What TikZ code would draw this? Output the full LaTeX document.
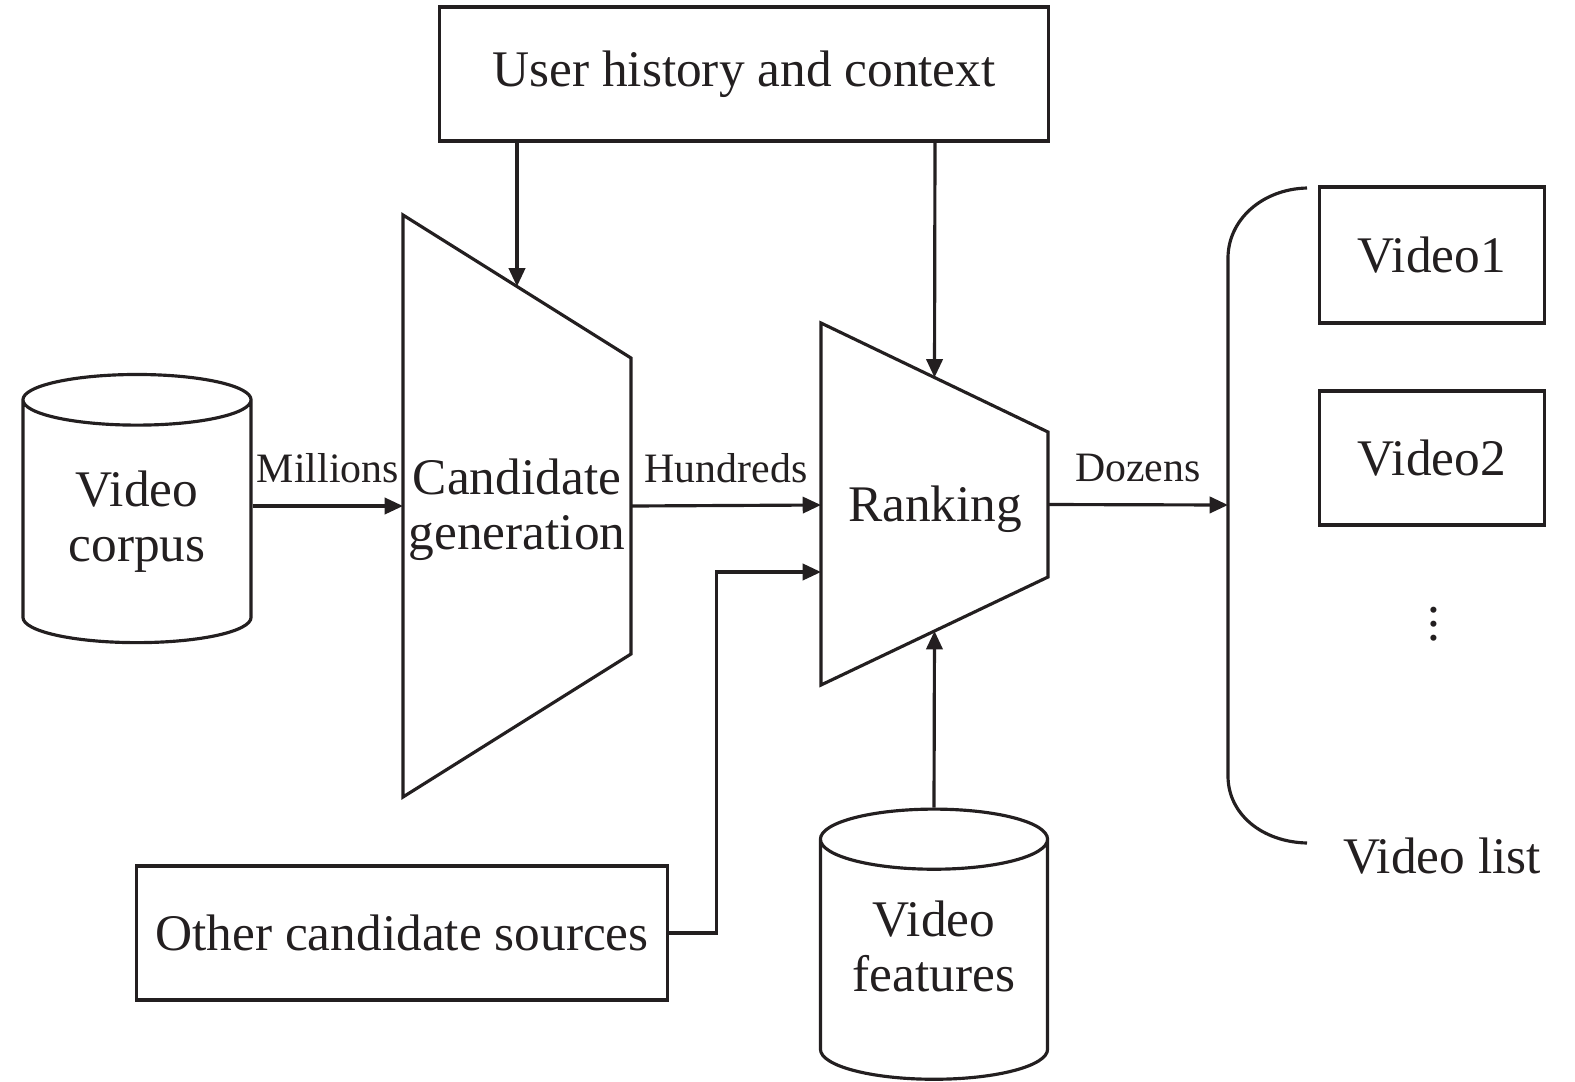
\documentclass[tikz,border=0pt]{standalone}
\usepackage{fontspec}
\setmainfont{Liberation Serif}
\usepackage{tikz}
\usetikzlibrary{positioning,calc,shapes.geometric,arrows.meta}
\definecolor{Dark}{HTML}{231F20}
\newcommand{\BoxFont}{\fontsize{14.6}{15.6}\selectfont}
\newcommand{\LabelFont}{\fontsize{11.9}{13}\selectfont}

\begin{document}
\begin{tikzpicture}[
	x=0.01cm, y=-0.01cm,
	line width=0.9pt,
	color=Dark,
	boxnode/.style={draw, rectangle, align=center, font=\BoxFont},
	store/.style={draw, cylinder, shape border rotate=90, aspect=0.37,
		align=center, font=\BoxFont, inner sep=0pt},
	flow/.style={-{Triangle[length=5.2pt,width=4.6pt]}},
	amount/.style={above=5pt, font=\LabelFont, inner sep=1pt}
	]
	\useasboundingbox (0,0) rectangle (1575,1081);

	% inputs
	\node[boxnode, minimum width=6.08cm, minimum height=1.34cm] (user) at (744,74) {User history and context};
	\node[store, minimum width=2.28cm, minimum height=2.68cm] (corpus) at (137,522) {Video\\corpus};
	\node[store, minimum width=2.27cm, minimum height=2.70cm] (features) at (934,960) {\phantom{Video}\\\phantom{features}};
	\node[font=\BoxFont, align=center, inner sep=0pt] (features-text) at (934,946) {Video\\features};
	\node[boxnode, minimum width=5.31cm, minimum height=1.34cm] (other) at (402,933) {Other candidate sources};

	% candidate generation funnel
	\coordinate (cg-tl) at (403,215);
	\coordinate (cg-tr) at (631,358);
	\coordinate (cg-br) at (631,654);
	\coordinate (cg-bl) at (403,797);
	\draw (cg-tl) -- (cg-tr) -- (cg-br) -- (cg-bl) -- cycle;
	\node[font=\BoxFont, align=center, inner sep=0pt] (cand) at (517,510) {Candidate\\generation};
	\coordinate (cg-in) at ($(cg-tl)!0.5!(cg-bl)$);

	% ranking funnel
	\coordinate (rk-tl) at (821,323);
	\coordinate (rk-tr) at (1048,432);
	\coordinate (rk-br) at (1048,577);
	\coordinate (rk-bl) at (821,685);
	\draw (rk-tl) -- (rk-tr) -- (rk-br) -- (rk-bl) -- cycle;
	\node[font=\BoxFont, inner sep=0pt] (rank) at (935,509) {Ranking};
	\coordinate (rk-in1) at (821,505);
	\coordinate (rk-in2) at (821,572);

	% video list
	\coordinate (list-top) at (1307,188);
	\coordinate (list-bot) at (1307,843);
	\coordinate (list-in) at (1228,505);
	\draw (list-top) .. controls (1262,189) and (1228,220) .. (1228,258)
		-- (1228,776) .. controls (1228,814) and (1262,842) .. (list-bot);
	\node[boxnode, minimum width=2.25cm, minimum height=1.36cm] (video1) at (1432,255) {Video1};
	\node[boxnode, minimum width=2.25cm, minimum height=1.34cm] (video2) at (1432,458) {Video2};
	\node[font=\BoxFont, inner sep=0pt] (more) at (1434,614) {$\vdots$};
	\node[font=\BoxFont, inner sep=0pt] (listname) at (1442,856) {Video list};

	% connectors
	\draw[flow] (corpus.east |- cg-in) -- node[amount] (millions) {Millions} (cg-in);
	\draw[flow] ($(cg-tr)!0.5!(cg-br)$) -- node[amount] (hundreds) {Hundreds} (rk-in1);
	\draw[flow] ($(rk-tr)!0.5!(rk-br)$) -- node[amount] (dozens) {Dozens} (list-in);
	\draw[flow] (user.south -| cand) -- ($(cg-tl)!0.5!(cg-tr)$);
	\draw[flow] (user.south -| rank) -- ($(rk-tl)!0.5!(rk-tr)$);
	\draw[flow] (features.north) -- ($(rk-bl)!0.5!(rk-br)$);
	\draw[flow] (other.east) -- ++(47,0) |- (rk-in2);
\end{tikzpicture}
\end{document}
